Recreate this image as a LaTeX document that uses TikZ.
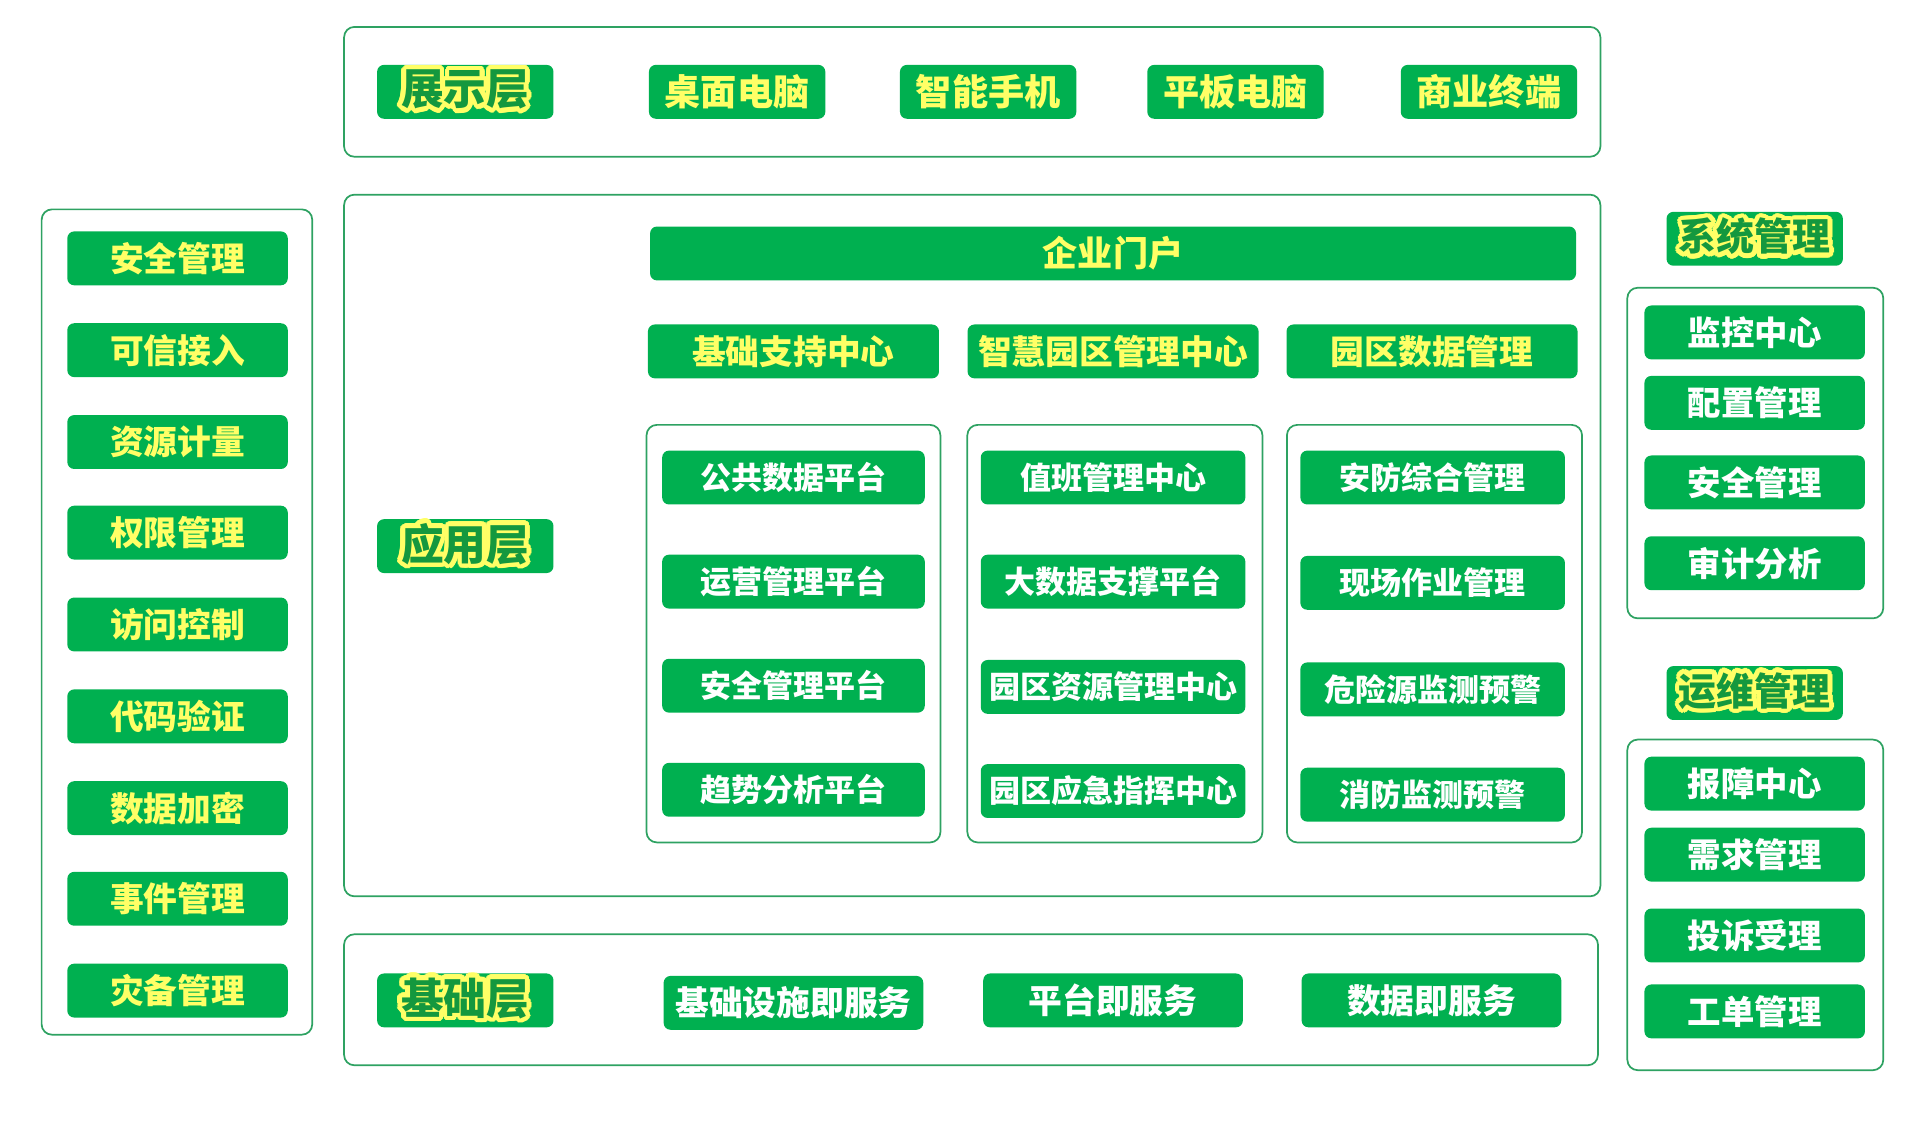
\documentclass[tikz,border=0pt]{standalone}
\usepackage{fontspec}
\usepackage{xcolor}
\usepackage[copies]{contour}
\usetikzlibrary{
    positioning,
    calc
}
\newfontfamily\cjk{Noto Sans CJK SC}
\definecolor{VerdeCaixa}{HTML}{00B050}
\definecolor{VerdeBorda}{HTML}{2EA262}
\definecolor{VerdeEscuro}{HTML}{14983E}
\definecolor{Amarelo}{HTML}{FFFF66}
\definecolor{Branco}{HTML}{FFFFFF}
\contourlength{1.3pt}
\contournumber{24}

\begin{document}
\begin{tikzpicture}[
                x=0.0125cm, y=-0.0125cm,
                every node/.style={align=center, font=\cjk\bfseries},
                caixa/.style={
                    fill=VerdeCaixa,
                    rounded corners=2pt,
                    inner sep=0pt,
                    minimum height=0.55cm
                },
                rotulo/.style={caixa, text=Amarelo},
                item/.style={caixa, text=Branco},
                camada/.style={
                    caixa,
                    text=VerdeEscuro,
                    minimum width=1.8cm,
                    font=\cjk\bfseries\fontsize{12.4}{14}\selectfont
                },
                moldura/.style={
                    draw=VerdeBorda,
                    line width=0.5pt,
                    rounded corners=3pt
                }
            ]

                \useasboundingbox (0,0) rectangle (1568,932);

                % camada de exibicao
                \draw[moldura] (281,22) rectangle (1307,128);

                \node[camada] (zhanshi) at (380,75)
                    {\contour{Amarelo}{展示层}};

                \node[rotulo, minimum width=1.8cm,
                    font=\cjk\bfseries\fontsize{10.5}{12}\selectfont]
                    (zhuomian) at (602,75) {桌面电脑};
                \node[rotulo, minimum width=1.8cm,
                    font=\cjk\bfseries\fontsize{10.5}{12}\selectfont]
                    (shouji) at (807,75) {智能手机};
                \node[rotulo, minimum width=1.8cm,
                    font=\cjk\bfseries\fontsize{10.5}{12}\selectfont]
                    (pingban) at (1009,75) {平板电脑};
                \node[rotulo, minimum width=1.8cm,
                    font=\cjk\bfseries\fontsize{10.5}{12}\selectfont]
                    (shangye) at (1216,75) {商业终端};

                % camada de aplicacao
                \draw[moldura] (281,159) rectangle (1307,732);

                \node[camada] (yingyong) at (380,446)
                    {\contour{Amarelo}{应用层}};

                \node[rotulo, minimum width=9.45cm,
                    font=\cjk\bfseries\fontsize{10.2}{12}\selectfont]
                    (menhu) at (909,207) {企业门户};

                \node[rotulo, minimum width=2.97cm,
                    font=\cjk\bfseries\fontsize{9.8}{12}\selectfont]
                    (jichu) at (648,287) {基础支持中心};
                \node[rotulo, minimum width=2.97cm,
                    font=\cjk\bfseries\fontsize{9.8}{12}\selectfont]
                    (zhihui) at (909,287) {智慧园区管理中心};
                \node[rotulo, minimum width=2.97cm,
                    font=\cjk\bfseries\fontsize{9.8}{12}\selectfont]
                    (shuju) at (1169.5,287) {园区数据管理};

                \draw[moldura] (528,347) rectangle (768,688);
                \draw[moldura] (790,347) rectangle (1031,688);
                \draw[moldura] (1051,347) rectangle (1292,688);

                \node[item, minimum width=2.68cm,
                    font=\cjk\bfseries\fontsize{9}{11}\selectfont]
                    (gonggong) at (648,390) {公共数据平台};
                \node[item, minimum width=2.68cm,
                    font=\cjk\bfseries\fontsize{9}{11}\selectfont]
                    (yunying) at (648,475) {运营管理平台};
                \node[item, minimum width=2.68cm,
                    font=\cjk\bfseries\fontsize{9}{11}\selectfont]
                    (anquanpt) at (648,560) {安全管理平台};
                \node[item, minimum width=2.68cm,
                    font=\cjk\bfseries\fontsize{9}{11}\selectfont]
                    (qushi) at (648,645) {趋势分析平台};

                \node[item, minimum width=2.7cm,
                    font=\cjk\bfseries\fontsize{9}{11}\selectfont]
                    (zhiban) at (909,390) {值班管理中心};
                \node[item, minimum width=2.7cm,
                    font=\cjk\bfseries\fontsize{9}{11}\selectfont]
                    (dashuju) at (909,475) {大数据支撑平台};
                \node[item, minimum width=2.7cm,
                    font=\cjk\bfseries\fontsize{9}{11}\selectfont]
                    (ziyuan) at (909,561) {园区资源管理中心};
                \node[item, minimum width=2.7cm,
                    font=\cjk\bfseries\fontsize{9}{11}\selectfont]
                    (yingji) at (909,646) {园区应急指挥中心};

                \node[item, minimum width=2.7cm,
                    font=\cjk\bfseries\fontsize{9}{11}\selectfont]
                    (anfang) at (1170,390) {安防综合管理};
                \node[item, minimum width=2.7cm,
                    font=\cjk\bfseries\fontsize{9}{11}\selectfont]
                    (xianchang) at (1170,476) {现场作业管理};
                \node[item, minimum width=2.7cm,
                    font=\cjk\bfseries\fontsize{9}{11}\selectfont]
                    (weixian) at (1170,563) {危险源监测预警};
                \node[item, minimum width=2.7cm,
                    font=\cjk\bfseries\fontsize{9}{11}\selectfont]
                    (xiaofang) at (1170,649) {消防监测预警};

                % camada de base
                \draw[moldura] (281,763) rectangle (1305,870);

                \node[camada] (jichuceng) at (380,817)
                    {\contour{Amarelo}{基础层}};

                \node[item, minimum width=2.65cm,
                    font=\cjk\bfseries\fontsize{9.8}{12}\selectfont]
                    (iaas) at (648,819) {基础设施即服务};
                \node[item, minimum width=2.65cm,
                    font=\cjk\bfseries\fontsize{9.8}{12}\selectfont]
                    (paas) at (909,817) {平台即服务};
                \node[item, minimum width=2.65cm,
                    font=\cjk\bfseries\fontsize{9.8}{12}\selectfont]
                    (daas) at (1169,817) {数据即服务};

                % coluna da esquerda
                \draw[moldura] (34,171) rectangle (255,845);

                \node[rotulo, minimum width=2.25cm,
                    font=\cjk\bfseries\fontsize{9.8}{12}\selectfont]
                    (anquan) at (145,211) {安全管理};
                \node[rotulo, minimum width=2.25cm,
                    font=\cjk\bfseries\fontsize{9.8}{12}\selectfont]
                    (kexin) at (145,286) {可信接入};
                \node[rotulo, minimum width=2.25cm,
                    font=\cjk\bfseries\fontsize{9.8}{12}\selectfont]
                    (jiliang) at (145,361) {资源计量};
                \node[rotulo, minimum width=2.25cm,
                    font=\cjk\bfseries\fontsize{9.8}{12}\selectfont]
                    (quanxian) at (145,435) {权限管理};
                \node[rotulo, minimum width=2.25cm,
                    font=\cjk\bfseries\fontsize{9.8}{12}\selectfont]
                    (fangwen) at (145,510) {访问控制};
                \node[rotulo, minimum width=2.25cm,
                    font=\cjk\bfseries\fontsize{9.8}{12}\selectfont]
                    (daima) at (145,585) {代码验证};
                \node[rotulo, minimum width=2.25cm,
                    font=\cjk\bfseries\fontsize{9.8}{12}\selectfont]
                    (jiami) at (145,660) {数据加密};
                \node[rotulo, minimum width=2.25cm,
                    font=\cjk\bfseries\fontsize{9.8}{12}\selectfont]
                    (shijian) at (145,734) {事件管理};
                \node[rotulo, minimum width=2.25cm,
                    font=\cjk\bfseries\fontsize{9.8}{12}\selectfont]
                    (zaibei) at (145,809) {灾备管理};

                % coluna da direita
                \node[camada, font=\cjk\bfseries\fontsize{11}{13}\selectfont]
                    (xitong) at (1433,195) {\contour{Amarelo}{系统管理}};

                \draw[moldura] (1329,235) rectangle (1538,505);

                \node[item, minimum width=2.25cm,
                    font=\cjk\bfseries\fontsize{9.7}{12}\selectfont]
                    (jiankong) at (1433,271.5) {监控中心};
                \node[item, minimum width=2.25cm,
                    font=\cjk\bfseries\fontsize{9.7}{12}\selectfont]
                    (peizhi) at (1433,329) {配置管理};
                \node[item, minimum width=2.25cm,
                    font=\cjk\bfseries\fontsize{9.7}{12}\selectfont]
                    (anquanxt) at (1433,394) {安全管理};
                \node[item, minimum width=2.25cm,
                    font=\cjk\bfseries\fontsize{9.7}{12}\selectfont]
                    (shenji) at (1433,460) {审计分析};

                \node[camada, font=\cjk\bfseries\fontsize{11}{13}\selectfont]
                    (yunwei) at (1433,566) {\contour{Amarelo}{运维管理}};

                \draw[moldura] (1329,604) rectangle (1538,874);

                \node[item, minimum width=2.25cm,
                    font=\cjk\bfseries\fontsize{9.7}{12}\selectfont]
                    (baozhang) at (1433,640) {报障中心};
                \node[item, minimum width=2.25cm,
                    font=\cjk\bfseries\fontsize{9.7}{12}\selectfont]
                    (xuqiu) at (1433,698) {需求管理};
                \node[item, minimum width=2.25cm,
                    font=\cjk\bfseries\fontsize{9.7}{12}\selectfont]
                    (tousu) at (1433,764) {投诉受理};
                \node[item, minimum width=2.25cm,
                    font=\cjk\bfseries\fontsize{9.7}{12}\selectfont]
                    (gongdan) at (1433,826) {工单管理};

            \end{tikzpicture}
\end{document}
